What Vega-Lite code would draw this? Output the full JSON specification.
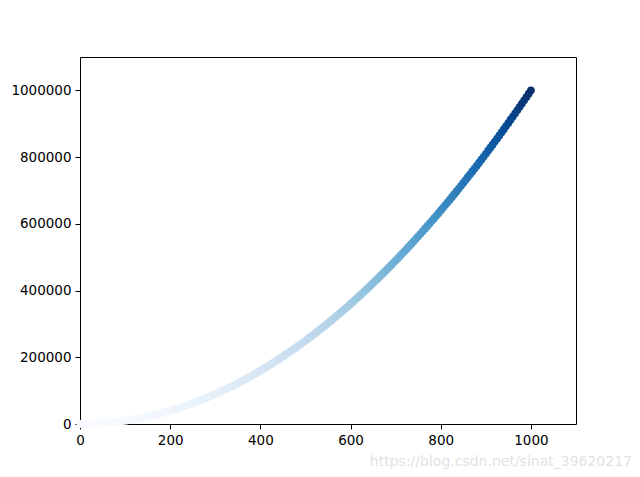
{
  "$schema": "https://vega.github.io/schema/vega-lite/v6.json",
  "autosize": {"type": "none"},
  "padding": {"left": 80, "top": 57, "right": 64, "bottom": 53},
  "width": 496,
  "height": 367,
  "background": "white",
  "config": {
    "font": "DejaVu Sans",
    "view": {"stroke": "#000000", "strokeWidth": 1},
    "axis": {
      "grid": false,
      "domain": false,
      "tickColor": "#000000",
      "tickSize": 5,
      "tickWidth": 1,
      "labelColor": "#000000",
      "labelFont": "DejaVu Sans",
      "labelFontSize": 13.5,
      "labelPadding": 4,
      "labelFlush": false,
      "labelOverlap": false,
      "title": null
    }
  },
  "title": {
    "text": "https://blog.csdn.net/sinat_39620217",
    "orient": "bottom",
    "anchor": "end",
    "frame": "group",
    "font": "DejaVu Sans",
    "fontSize": 14,
    "fontWeight": "normal",
    "color": "#e2e2e2",
    "offset": 8,
    "dx": 56
  },
  "data": {"values": [
    {"x":1,"y":1},{"x":5,"y":25},{"x":10,"y":100},{"x":15,"y":225},{"x":20,"y":400},{"x":25,"y":625},{"x":30,"y":900},{"x":35,"y":1225},{"x":40,"y":1600},{"x":45,"y":2025},{"x":50,"y":2500},
    {"x":55,"y":3025},{"x":60,"y":3600},{"x":65,"y":4225},{"x":70,"y":4900},{"x":75,"y":5625},{"x":80,"y":6400},{"x":85,"y":7225},{"x":90,"y":8100},{"x":95,"y":9025},{"x":100,"y":10000},
    {"x":105,"y":11025},{"x":110,"y":12100},{"x":115,"y":13225},{"x":120,"y":14400},{"x":125,"y":15625},{"x":130,"y":16900},{"x":135,"y":18225},{"x":140,"y":19600},{"x":145,"y":21025},{"x":150,"y":22500},
    {"x":155,"y":24025},{"x":160,"y":25600},{"x":165,"y":27225},{"x":170,"y":28900},{"x":175,"y":30625},{"x":180,"y":32400},{"x":185,"y":34225},{"x":190,"y":36100},{"x":195,"y":38025},{"x":200,"y":40000},
    {"x":205,"y":42025},{"x":210,"y":44100},{"x":215,"y":46225},{"x":220,"y":48400},{"x":225,"y":50625},{"x":230,"y":52900},{"x":235,"y":55225},{"x":240,"y":57600},{"x":245,"y":60025},{"x":250,"y":62500},
    {"x":255,"y":65025},{"x":260,"y":67600},{"x":265,"y":70225},{"x":270,"y":72900},{"x":275,"y":75625},{"x":280,"y":78400},{"x":285,"y":81225},{"x":290,"y":84100},{"x":295,"y":87025},{"x":300,"y":90000},
    {"x":305,"y":93025},{"x":310,"y":96100},{"x":315,"y":99225},{"x":320,"y":102400},{"x":325,"y":105625},{"x":330,"y":108900},{"x":335,"y":112225},{"x":340,"y":115600},{"x":345,"y":119025},{"x":350,"y":122500},
    {"x":355,"y":126025},{"x":360,"y":129600},{"x":365,"y":133225},{"x":370,"y":136900},{"x":375,"y":140625},{"x":380,"y":144400},{"x":385,"y":148225},{"x":390,"y":152100},{"x":395,"y":156025},{"x":400,"y":160000},
    {"x":405,"y":164025},{"x":410,"y":168100},{"x":415,"y":172225},{"x":420,"y":176400},{"x":425,"y":180625},{"x":430,"y":184900},{"x":435,"y":189225},{"x":440,"y":193600},{"x":445,"y":198025},{"x":450,"y":202500},
    {"x":455,"y":207025},{"x":460,"y":211600},{"x":465,"y":216225},{"x":470,"y":220900},{"x":475,"y":225625},{"x":480,"y":230400},{"x":485,"y":235225},{"x":490,"y":240100},{"x":495,"y":245025},{"x":500,"y":250000},
    {"x":505,"y":255025},{"x":510,"y":260100},{"x":515,"y":265225},{"x":520,"y":270400},{"x":525,"y":275625},{"x":530,"y":280900},{"x":535,"y":286225},{"x":540,"y":291600},{"x":545,"y":297025},{"x":550,"y":302500},
    {"x":555,"y":308025},{"x":560,"y":313600},{"x":565,"y":319225},{"x":570,"y":324900},{"x":575,"y":330625},{"x":580,"y":336400},{"x":585,"y":342225},{"x":590,"y":348100},{"x":595,"y":354025},{"x":600,"y":360000},
    {"x":605,"y":366025},{"x":610,"y":372100},{"x":615,"y":378225},{"x":620,"y":384400},{"x":625,"y":390625},{"x":630,"y":396900},{"x":635,"y":403225},{"x":640,"y":409600},{"x":645,"y":416025},{"x":650,"y":422500},
    {"x":655,"y":429025},{"x":660,"y":435600},{"x":665,"y":442225},{"x":670,"y":448900},{"x":675,"y":455625},{"x":680,"y":462400},{"x":685,"y":469225},{"x":690,"y":476100},{"x":695,"y":483025},{"x":700,"y":490000},
    {"x":705,"y":497025},{"x":710,"y":504100},{"x":715,"y":511225},{"x":720,"y":518400},{"x":725,"y":525625},{"x":730,"y":532900},{"x":735,"y":540225},{"x":740,"y":547600},{"x":745,"y":555025},{"x":750,"y":562500},
    {"x":755,"y":570025},{"x":760,"y":577600},{"x":765,"y":585225},{"x":770,"y":592900},{"x":775,"y":600625},{"x":780,"y":608400},{"x":785,"y":616225},{"x":790,"y":624100},{"x":795,"y":632025},{"x":800,"y":640000},
    {"x":805,"y":648025},{"x":810,"y":656100},{"x":815,"y":664225},{"x":820,"y":672400},{"x":825,"y":680625},{"x":830,"y":688900},{"x":835,"y":697225},{"x":840,"y":705600},{"x":845,"y":714025},{"x":850,"y":722500},
    {"x":855,"y":731025},{"x":860,"y":739600},{"x":865,"y":748225},{"x":870,"y":756900},{"x":875,"y":765625},{"x":880,"y":774400},{"x":885,"y":783225},{"x":890,"y":792100},{"x":895,"y":801025},{"x":900,"y":810000},
    {"x":905,"y":819025},{"x":910,"y":828100},{"x":915,"y":837225},{"x":920,"y":846400},{"x":925,"y":855625},{"x":930,"y":864900},{"x":935,"y":874225},{"x":940,"y":883600},{"x":945,"y":893025},{"x":950,"y":902500},
    {"x":955,"y":912025},{"x":960,"y":921600},{"x":965,"y":931225},{"x":970,"y":940900},{"x":975,"y":950625},{"x":980,"y":960400},{"x":985,"y":970225},{"x":990,"y":980100},{"x":995,"y":990025},{"x":1000,"y":1000000}
  ]},
  "mark": {"type": "circle", "size": 60, "opacity": 1, "strokeWidth": 0},
  "encoding": {
    "x": {"field": "x", "type": "quantitative", "scale": {"domain": [0, 1100], "nice": false, "zero": false},
          "axis": {"values": [0, 200, 400, 600, 800, 1000], "format": "d"}},
    "y": {"field": "y", "type": "quantitative", "scale": {"domain": [0, 1100000], "nice": false, "zero": false},
          "axis": {"values": [0, 200000, 400000, 600000, 800000, 1000000], "format": "d"}},
    "color": {"field": "y", "type": "quantitative", "legend": null,
              "scale": {"domain": [0, 125000, 250000, 375000, 500000, 625000, 750000, 875000, 1000000],
                        "range": ["#f7fbff", "#deebf7", "#c6dbef", "#9ecae1", "#6baed6", "#4292c6", "#2171b5", "#08519c", "#08306b"],
                        "interpolate": "rgb"}}
  }
}
